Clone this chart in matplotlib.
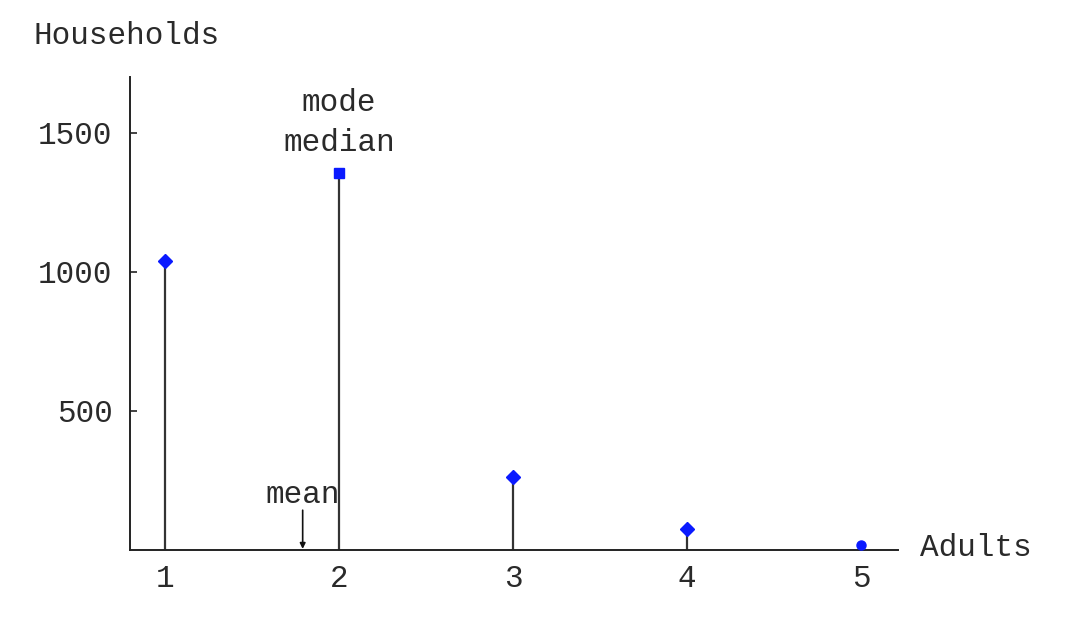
import matplotlib.pyplot as plt

# household counts by number of adults
adults = [1, 2, 3, 4, 5]
households = [1040, 1356, 262, 75, 18]
point_markers = ['D', 's', 'D', 'D', 'o']

x_ticks = [1, 2, 3, 4, 5]
y_ticks = [500, 1000, 1500]
mean_adults = sum(a * h for a, h in zip(adults, households)) / sum(households)

FONT = 'Liberation Mono'
FS = 22.3
TXT = '#2a2a2a'


def main():
    fig = plt.figure(figsize=(10.81, 6.20), dpi=100)
    ax = fig.add_axes([0.1203, 0.1129, 0.7104, 0.7629])

    for a, h, m in zip(adults, households, point_markers):
        ax.plot([a, a], [0, h], color='#333333', lw=1.6, zorder=2)
        ms = 7 if m == 'D' else 6.5
        ax.plot(a, h, marker=m, color='#0a1aff', ms=ms, mec='#0a1aff', zorder=3)

    ax.set_xlim(0.8, 5.21)
    ax.set_ylim(0, 1700)
    for s in ['top', 'right']:
        ax.spines[s].set_visible(False)
    for s in ['left', 'bottom']:
        ax.spines[s].set_color('#222222')
        ax.spines[s].set_linewidth(1.4)

    ax.set_xticks(x_ticks)
    ax.set_xticklabels([str(t) for t in x_ticks], fontfamily=FONT, fontsize=FS, color=TXT)
    ax.set_yticks(y_ticks)
    ax.set_yticklabels([str(t) for t in y_ticks], fontfamily=FONT, fontsize=FS, color=TXT)
    ax.tick_params(axis='x', direction='in', length=0, pad=10)
    ax.tick_params(axis='y', direction='in', length=5, width=1.2, pad=12.5, color='#222222')

    ax.text(2, 1410, 'mode\nmedian', ha='center', va='bottom', fontfamily=FONT,
            fontsize=FS, linespacing=1.42, color=TXT)
    ax.text(mean_adults, 197, 'mean', ha='center', va='center', fontfamily=FONT,
            fontsize=FS, color=TXT)
    ax.annotate('', xy=(mean_adults, 4), xytext=(mean_adults, 143),
                arrowprops=dict(arrowstyle='-|>', color='#111111', lw=1.2,
                                mutation_scale=8, shrinkA=0, shrinkB=0))

    fig.text(33 / 1081, 1 - 36 / 620, 'Households', ha='left', va='center',
             fontfamily=FONT, fontsize=FS, color=TXT)
    fig.text(920 / 1081, 1 - 548 / 620, 'Adults', ha='left', va='center',
             fontfamily=FONT, fontsize=FS, color=TXT)

    fig.savefig('out.png', dpi=100)


if __name__ == '__main__':
    main()
